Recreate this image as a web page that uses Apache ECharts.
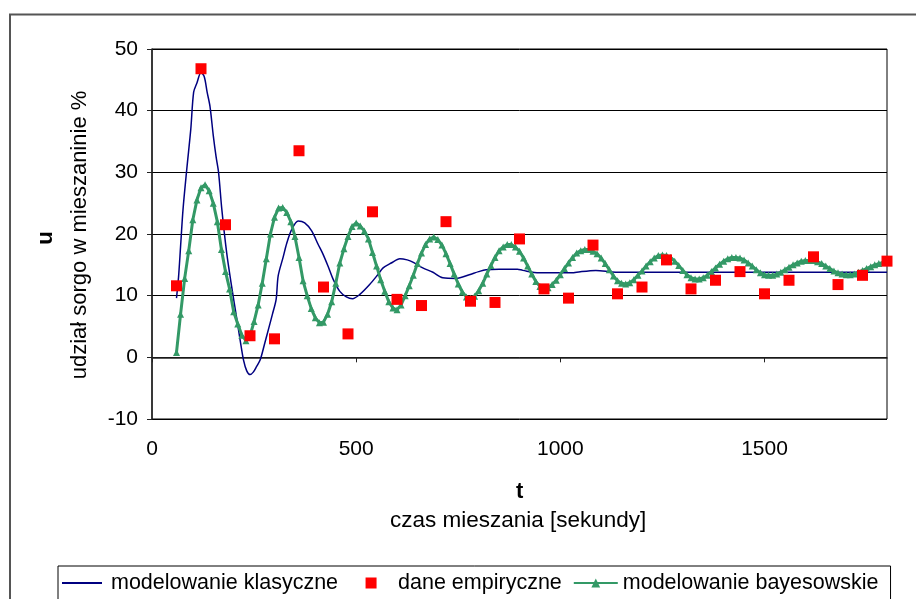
<!DOCTYPE html>
<html>
<head>
<meta charset="utf-8">
<script src="https://cdn.jsdelivr.net/npm/echarts@6/dist/echarts.min.js"></script>
<style>
  html, body { margin: 0; padding: 0; background: #fff; }
  #chart { width: 916px; height: 599px; }
</style>
</head>
<body>
<div id="chart"></div>
<script>
// Empirical data (dane empiryczne)
const empiricalT = [60, 120, 180, 240, 300, 360, 420, 480, 540, 600, 660, 720, 780, 840, 900, 960, 1020, 1080, 1140, 1200, 1260, 1320, 1380, 1440, 1500, 1560, 1620, 1680, 1740, 1800];
const empiricalU = [11.6, 46.8, 21.5, 3.5, 3.0, 33.5, 11.4, 3.8, 23.6, 9.4, 8.4, 22.0, 9.1, 8.9, 19.2, 11.1, 9.6, 18.2, 10.3, 11.4, 15.8, 11.1, 12.5, 13.9, 10.3, 12.5, 16.3, 11.8, 13.3, 15.6];

// Classical model (modelowanie klasyczne)
const classicT = [60, 65, 70, 76, 85, 95, 102, 110, 120, 128, 135, 142, 150, 157, 163, 171, 183, 195, 208, 217, 224, 232, 240, 248, 256, 265, 275, 285, 295, 304, 309, 321, 330, 342, 358, 374, 391, 407, 419, 431, 444, 460, 476, 491, 509, 533, 553, 566, 586, 607, 625, 640, 663, 688, 712, 745, 777, 800, 818, 850, 895, 908, 948, 1030, 1040, 1087, 1136, 1200, 1300, 1400, 1500, 1600, 1700, 1800];
const classicU = [9.6, 13.0, 18.0, 24.0, 30.4, 37.0, 43.0, 44.5, 46.2, 45.5, 43.0, 40.7, 36.0, 32.5, 30.0, 24.0, 16.9, 11.5, 6.1, 2.3, -0.4, -2.2, -2.8, -2.4, -1.5, -0.4, 2.0, 4.5, 7.0, 9.4, 13.2, 16.2, 18.5, 20.7, 22.1, 21.8, 20.5, 18.3, 16.7, 14.8, 12.6, 10.7, 9.8, 9.5, 10.2, 11.8, 13.4, 14.5, 15.3, 16.0, 15.8, 15.4, 14.5, 13.8, 12.9, 12.8, 13.4, 13.9, 14.2, 14.3, 14.3, 14.1, 13.7, 13.7, 13.8, 14.1, 13.8, 13.8, 13.8, 13.8, 13.8, 13.8, 13.8, 13.8];

// Bayesian model (modelowanie bayesowskie), sampled every 10 s from t = 60
const bayesStart = 60;
const bayesStep = 10;
const bayesU = [
  0.8, 7.0, 12.8, 17.3,
  22.3, 25.5, 27.5, 28.0, 27.0, 25.0, 22.0, 17.5, 13.9, 11.1,
  7.4, 5.4, 3.6, 2.7, 3.5, 5.8, 8.5, 12.0, 16.0, 20.0,
  22.7, 24.2, 24.3, 23.5, 22.0, 19.6, 16.2, 12.4, 10.0, 7.9,
  6.4, 5.6, 5.7, 7.0, 9.0, 12.0, 15.3, 17.6, 19.6, 21.2,
  21.8, 21.3, 20.5, 19.2, 17.0, 14.8, 12.6, 10.7, 9.0, 8.0,
  7.7, 8.5, 10.0, 11.6, 13.3, 15.2, 16.9, 18.3, 19.2, 19.5,
  19.1, 18.2, 16.8, 15.2, 13.5, 11.9, 10.6, 9.8, 9.6, 9.9,
  10.8, 12.0, 13.5, 14.9, 16.2, 17.3, 17.9, 18.3, 18.3, 17.9,
  17.2, 16.1, 14.8, 13.5, 12.3, 11.5, 11.2, 11.3, 11.8, 12.5,
  13.4, 14.4, 15.3, 16.2, 16.9, 17.3, 17.5, 17.5, 17.2, 16.8,
  16.1, 15.2, 14.2, 13.2, 12.4, 12.0, 11.9, 12.1, 12.6, 13.3,
  14.0, 14.8, 15.5, 16.1, 16.5, 16.6, 16.5, 16.2, 15.6, 14.9,
  14.1, 13.4, 12.9, 12.7, 12.7, 12.9, 13.3, 13.9, 14.5, 15.1,
  15.6, 16.0, 16.2, 16.2, 16.1, 15.8, 15.3, 14.8, 14.2, 13.7,
  13.4, 13.3, 13.3, 13.5, 13.8, 14.2, 14.6, 15.0, 15.3, 15.6,
  15.7, 15.7, 15.7, 15.5, 15.2, 14.8, 14.4, 14.0, 13.7, 13.5,
  13.4, 13.4, 13.5, 13.8, 14.1, 14.4, 14.7, 15.0, 15.2, 15.4,
  15.6
];

const xTicks = [0, 500, 1000, 1500];
const seriesNames = ['modelowanie klasyczne', 'dane empiryczne', 'modelowanie bayesowskie'];

const zip = (xs, ys) => xs.map((x, i) => [x, ys[i]]);
const bayesData = bayesU.map((u, i) => [bayesStart + bayesStep * i, u]);

const FONT = '"Liberation Sans", Arial, sans-serif';

// legend icons: bounding box 44x11 so they are drawn 1:1 inside the legend item box
const ICON_LINE = 'path://M0,0L0.01,0M44,11L43.99,11M0,4.5H40V6.5H0Z';
const ICON_SQUARE = 'path://M0,0L0.01,0M44,11L43.99,11M16.5,0H27.5V11H16.5Z';

const chart = echarts.init(document.getElementById('chart'), null, { renderer: 'canvas' });
chart.setOption({
  backgroundColor: '#ffffff',
  animation: false,
  textStyle: { fontFamily: FONT, color: '#000' },
  grid: {
    left: 152, right: 29, top: 49, bottom: 180,
    show: true, borderColor: '#000', borderWidth: 1, backgroundColor: 'transparent'
  },
  xAxis: {
    type: 'value', min: 0, max: 1800, interval: 500,
    axisLine: { show: true, lineStyle: { color: '#222', width: 1.5 } },
    axisTick: { show: true, inside: false, length: 5, lineStyle: { color: '#222' }, customValues: xTicks },
    axisLabel: { fontSize: 21, fontFamily: FONT, color: '#000', margin: 20, customValues: xTicks,
      formatter: (v) => String(v) },
    splitLine: { show: false }
  },
  yAxis: {
    type: 'value', min: -10, max: 50, interval: 10,
    axisLine: { show: true, lineStyle: { color: '#222', width: 1.5 } },
    axisTick: { show: true, inside: false, length: 5, lineStyle: { color: '#222' } },
    axisLabel: { fontSize: 21, fontFamily: FONT, color: '#000', margin: 14, formatter: (v) => String(v) },
    splitLine: { show: true, lineStyle: { color: '#000', width: 1 } }
  },
  legend: {
    left: 58, top: 566,
    padding: [6, 12, 20, 4],
    borderColor: '#000', borderWidth: 1, backgroundColor: '#fff',
    itemWidth: 44, itemHeight: 11, itemGap: 11,
    textStyle: { fontSize: 21.5, fontFamily: FONT, color: '#000' },
    data: [
      { name: seriesNames[0], icon: ICON_LINE, itemStyle: { color: '#000080', borderWidth: 0, opacity: 1 } },
      { name: seriesNames[1], icon: ICON_SQUARE, itemStyle: { color: '#ff0000', borderWidth: 0, opacity: 1 } },
      { name: seriesNames[2] }
    ]
  },
  graphic: [
    { type: 'rect', silent: true, z: -1, shape: { x: 10, y: 14.5, width: 1000, height: 1000 },
      style: { fill: null, stroke: '#555', lineWidth: 2 } },
    { type: 'text', top: 481, left: 516, silent: true,
      style: { text: 't', font: 'bold 22px "Liberation Sans", Arial, sans-serif', fill: '#000' } },
    { type: 'text', top: 509, left: 390, silent: true,
      style: { text: 'czas mieszania [sekundy]', font: '22.5px "Liberation Sans", Arial, sans-serif', fill: '#000' } },
    { type: 'text', silent: true, x: 46, y: 238, rotation: Math.PI / 2,
      style: { text: 'u', font: 'bold 22px "Liberation Sans", Arial, sans-serif', fill: '#000', align: 'center', verticalAlign: 'middle' } },
    { type: 'text', silent: true, x: 80, y: 235, rotation: Math.PI / 2,
      style: { text: 'udział sorgo w mieszaninie %', font: '22px "Liberation Sans", Arial, sans-serif', fill: '#000', align: 'center', verticalAlign: 'middle' } }
  ],
  series: [
    {
      name: seriesNames[0], type: 'line', data: zip(classicT, classicU),
      smooth: 0.3, symbol: 'none', showSymbol: false,
      lineStyle: { color: '#000080', width: 1.5 }, itemStyle: { color: '#000080' }, z: 2
    },
    {
      name: seriesNames[1], type: 'scatter', data: zip(empiricalT, empiricalU),
      symbol: 'rect', symbolSize: 11,
      itemStyle: { color: '#ff0000', opacity: 1 }, z: 4
    },
    {
      name: seriesNames[2], type: 'line', data: bayesData,
      symbol: 'triangle', symbolSize: 7, showAllSymbol: true,
      lineStyle: { color: '#339966', width: 3 }, itemStyle: { color: '#339966' }, z: 3
    }
  ]
});
</script>
</body>
</html>
